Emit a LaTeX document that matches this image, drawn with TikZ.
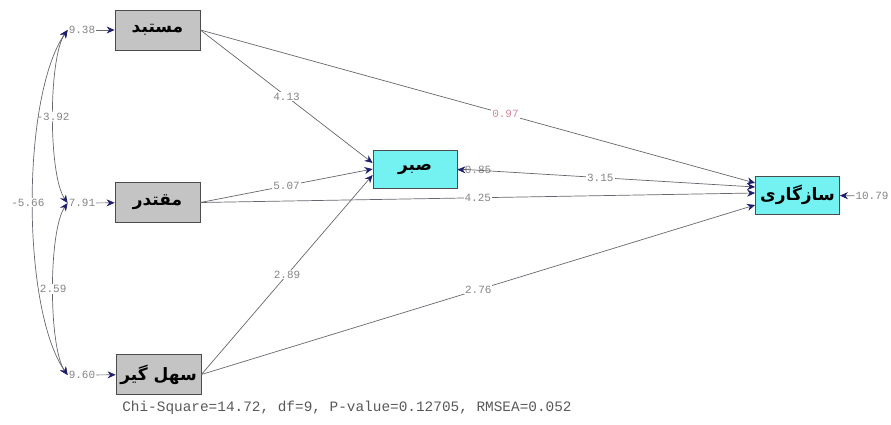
\documentclass[tikz,border=0pt]{standalone}
\usepackage{fontspec}
\setmonofont{Liberation Mono}
\newfontfamily\arabicfont[Script=Arabic]{DejaVu Sans}
\TeXXeTstate=1
\usetikzlibrary{arrows.meta}
\definecolor{boxgray}{HTML}{C4C4C4}
\definecolor{boxcyan}{HTML}{74F2F2}
\definecolor{linegray}{HTML}{66666E}
\definecolor{tipblue}{HTML}{1E1E6E}
\definecolor{numgray}{HTML}{858585}
\definecolor{numpink}{HTML}{D48A9A}
\tikzstyle{obs}=[rectangle, draw=black!70, fill=boxgray, line width=0.8pt, minimum width=85pt, minimum height=40pt, font=\arabicfont\bfseries\fontsize{17}{17}\selectfont]
\tikzstyle{lat}=[obs, fill=boxcyan, minimum width=84pt, minimum height=38pt]
\tikzstyle{num}=[inner sep=1pt, fill=white, text=numgray, font=\ttfamily\fontsize{11}{11}\selectfont]
\tikzstyle{cor}=[bend right=35, looseness=#1, {Stealth[length=8pt,width=7pt,color=tipblue]}-{Stealth[length=8pt,width=7pt,color=tipblue]}]
\newcommand{\fa}[1]{\beginR #1\endR}
\newcommand{\obs}{\node[obs]}
\newcommand{\lat}{\node[lat]}
\newcommand{\num}{\node[num]}

\begin{document}
\begin{tikzpicture}[x=1pt, y=-1pt
  ,every edge/.style={draw=linegray, line width=0.7pt, -{Stealth[length=8pt,width=7pt,color=tipblue]}}
]
\useasboundingbox (0,0) rectangle (891,424);
\obs (a) at (157.5,30) {\fa{مستبد}};
\obs (b) at (157.5,202.5) {\fa{مقتدر}};
\obs (c) at (158.5,374.5) {\fa{سهل گیر}};
\lat (d) at (415,169) {\fa{صبر}};
\lat (z) at (797.5,195) {\fa{سازگاری}};
\num (e1) at (82,30) {9.38};
\num (e2) at (82,203) {7.91};
\num (e3) at (82,375) {9.60};
\num (e4) at (478,170) {0.85};
\num (e5) at (872,196) {10.79};
\node[font=\ttfamily\fontsize{14.4}{15}\selectfont, text=black!65] (fit) at (347,408) {Chi-Square=14.72, df=9, P-value=0.12705, RMSEA=0.052};
\path
(a.east) edge node[num] {4.13} ([yshift=6pt]d.west)
         edge node[num, pos=0.55, text=numpink] {0.97} ([yshift=12pt]z.west)
(b.east) edge node[num] {5.07} (d.west)
         edge node[num] {4.25} ([yshift=2pt]z.west)
(c.east) edge node[num] {2.89} ([yshift=-6pt]d.west)
         edge node[num] {2.76} ([yshift=-10pt]z.west)
(d.east) edge node[num, pos=0.48] {3.15} ([yshift=8pt]z.west)
(e1) edge (a)
(e2) edge (b)
(e3) edge (c)
(e4) edge (d)
(e5) edge (z)
(e1.west) edge[cor=0.5] node[num] {-3.92} (e2.west)
(e2.west) edge[cor=0.5] node[num] {2.59} (e3.west)
(e1.west) edge[cor=0.6] node[num, xshift=-5pt] {-5.66} (e3.west)
;
\end{tikzpicture}
\end{document}
